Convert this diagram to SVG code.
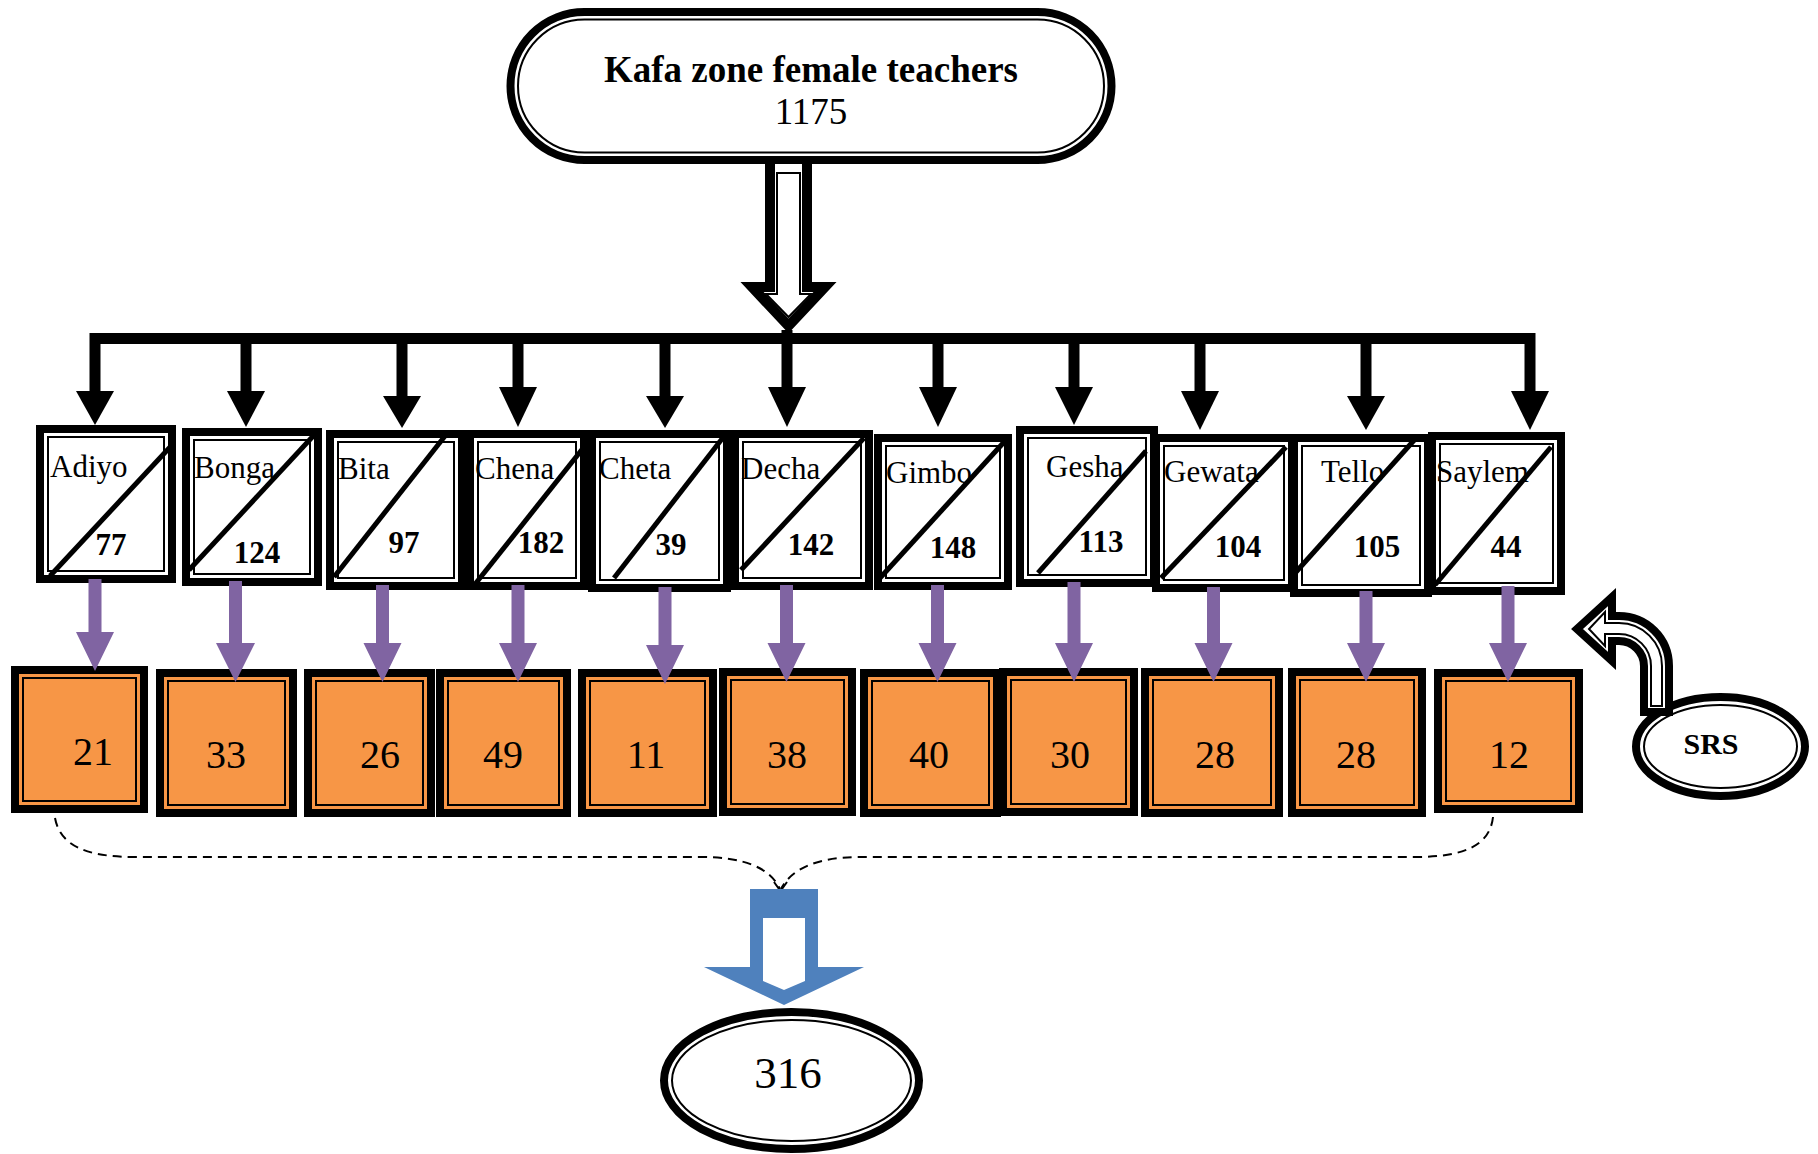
<svg xmlns="http://www.w3.org/2000/svg" width="1818" height="1154" viewBox="0 0 1818 1154">
<style>
.bg{fill:#fff}
.tk{fill:#fff;stroke:#000;stroke-width:8}
.tn{fill:none;stroke:#000;stroke-width:2}
.otk{fill:#F79646;stroke:#000;stroke-width:8}
.otn{fill:none;stroke:#000;stroke-width:2}
.dg{stroke:#000;stroke-width:5;stroke-linecap:butt}
.nm{font-family:"Liberation Serif","Times New Roman",serif;font-size:31px;fill:#000}
.num{font-family:"Liberation Serif","Times New Roman",serif;font-size:31px;font-weight:bold;fill:#000;text-anchor:middle}
.onum{font-family:"Liberation Serif","Times New Roman",serif;font-size:40px;fill:#000;text-anchor:middle}
.bus{fill:none;stroke:#000;stroke-width:11;stroke-linejoin:miter}
.drop{stroke:#000;stroke-width:11}
.head{fill:#000}
.pur{fill:#8064A2}
.dash{fill:none;stroke:#000;stroke-width:2;stroke-dasharray:9 6}
</style>
<rect class="bg" x="0" y="0" width="1818" height="1154"/>

<g id="connectors">
  <path d="M770,164 L770,287 L752,287 L788.5,326 L825,287 L807,287 L807,164" fill="#fff" stroke="#000" stroke-width="10" stroke-linejoin="miter"/>
  <path d="M777,173 L777,294 L766,294 L788.5,317 L811,294 L800,294 L800,173 Z" class="tn"/>
  <path class="bus" d="M95,392 L95,338.5 L1530,338.5 L1530,392"/>
  <line class="drop" x1="246" y1="338" x2="246" y2="392"/>
  <line class="drop" x1="402" y1="338" x2="402" y2="397"/>
  <line class="drop" x1="518" y1="338" x2="518" y2="388"/>
  <line class="drop" x1="665" y1="338" x2="665" y2="397"/>
  <line class="drop" x1="787" y1="330" x2="787" y2="388"/>
  <line class="drop" x1="938" y1="338" x2="938" y2="388"/>
  <line class="drop" x1="1074" y1="338" x2="1074" y2="388"/>
  <line class="drop" x1="1200" y1="338" x2="1200" y2="392"/>
  <line class="drop" x1="1366" y1="338" x2="1366" y2="397"/>
  <polygon class="head" points="76,391 114,391 95,425"/>
  <polygon class="head" points="227,391 265,391 246,427"/>
  <polygon class="head" points="383,396 421,396 402,428"/>
  <polygon class="head" points="499,387 537,387 518,427"/>
  <polygon class="head" points="646,396 684,396 665,428"/>
  <polygon class="head" points="768,387 806,387 787,427"/>
  <polygon class="head" points="919,387 957,387 938,427"/>
  <polygon class="head" points="1055,387 1093,387 1074,425"/>
  <polygon class="head" points="1181,391 1219,391 1200,430"/>
  <polygon class="head" points="1347,396 1385,396 1366,430"/>
  <polygon class="head" points="1511,391 1549,391 1530,430"/>
  <path class="dash" d="M55,818 C60,845 85,857 135,857 L700,857 C745,857 770,868 780,889"/>
  <path class="dash" d="M1493,817 C1490,845 1465,857 1415,857 L860,857 C818,857 792,868 781,889"/>
  <path d="M774,882 L780.5,891 L787,882" fill="none" stroke="#000" stroke-width="2"/>
  <polygon fill="#4F81BD" points="750,889 818,889 818,967 864,967 784,1005 704,967 750,967"/>
  <polygon fill="#fff" points="763,918 805,918 805,981 784,990 763,981"/>
</g>

<g id="n-top">
  <rect class="tk" x="510.5" y="12" width="601" height="148" rx="74" ry="74" stroke-width="9"/>
  <rect class="tn" x="518" y="19.5" width="586" height="133" rx="66.5" ry="66.5" stroke-width="2.5"/>
  <text x="811" y="82" font-family="'Liberation Serif','Times New Roman',serif" font-size="37" font-weight="bold" text-anchor="middle">Kafa zone female teachers</text>
  <text x="811" y="124" font-family="'Liberation Serif','Times New Roman',serif" font-size="37" text-anchor="middle">1175</text>
</g>

<g id="n-adiyo"><rect class="tk" x="40" y="429" width="132" height="150"/><rect class="tn" x="48" y="437" width="116" height="134"/><line class="dg" x1="50" y1="576" x2="172" y2="445"/><text class="nm" x="50" y="477">Adiyo</text><text class="num" x="111" y="555">77</text></g>
<g id="n-bonga"><rect class="tk" x="186" y="432" width="132" height="150"/><rect class="tn" x="194" y="440" width="116" height="134"/><line class="dg" x1="189" y1="570" x2="316" y2="433"/><text class="nm" x="194" y="478">Bonga</text><text class="num" x="257" y="563">124</text></g>
<g id="n-bita"><rect class="tk" x="330" y="434" width="132" height="152"/><rect class="tn" x="338" y="442" width="116" height="136"/><line class="dg" x1="334" y1="577" x2="445" y2="436"/><text class="nm" x="338" y="479">Bita</text><text class="num" x="404" y="553">97</text></g>
<g id="n-chena"><rect class="tk" x="470" y="434" width="114" height="152"/><rect class="tn" x="478" y="442" width="98" height="136"/><line class="dg" x1="472" y1="588" x2="584" y2="447"/><text class="nm" x="475" y="479">Chena</text><text class="num" x="541" y="553">182</text></g>
<g id="n-cheta"><rect class="tk" x="592" y="434" width="135" height="154"/><rect class="tn" x="600" y="442" width="119" height="138"/><line class="dg" x1="614" y1="578" x2="725" y2="435"/><text class="nm" x="599" y="479">Cheta</text><text class="num" x="671" y="555">39</text></g>
<g id="n-decha"><rect class="tk" x="735" y="434" width="134" height="152"/><rect class="tn" x="743" y="442" width="118" height="136"/><line class="dg" x1="741" y1="570" x2="864" y2="438"/><text class="nm" x="741" y="479">Decha</text><text class="num" x="811" y="555">142</text></g>
<g id="n-gimbo"><rect class="tk" x="878" y="438" width="130" height="148"/><rect class="tn" x="886" y="446" width="114" height="132"/><line class="dg" x1="880" y1="578" x2="1005" y2="441"/><text class="nm" x="886" y="483">Gimbo</text><text class="num" x="953" y="558">148</text></g>
<g id="n-gesha"><rect class="tk" x="1020" y="430" width="134" height="153"/><rect class="tn" x="1028" y="438" width="118" height="137"/><line class="dg" x1="1038" y1="573" x2="1146" y2="451"/><text class="nm" x="1046" y="477">Gesha</text><text class="num" x="1101" y="552">113</text></g>
<g id="n-gewata"><rect class="tk" x="1156" y="438" width="136" height="150"/><rect class="tn" x="1164" y="446" width="120" height="134"/><line class="dg" x1="1161" y1="578" x2="1286" y2="447"/><text class="nm" x="1164" y="482">Gewata</text><text class="num" x="1238" y="557">104</text></g>
<g id="n-tello"><rect class="tk" x="1294" y="438" width="134" height="155"/><rect class="tn" x="1302" y="446" width="118" height="139"/><line class="dg" x1="1296" y1="572" x2="1417" y2="437"/><text class="nm" x="1321" y="482">Tello</text><text class="num" x="1377" y="557">105</text></g>
<g id="n-saylem"><rect class="tk" x="1432" y="436" width="129" height="155"/><rect class="tn" x="1440" y="444" width="113" height="139"/><line class="dg" x1="1435" y1="585" x2="1551" y2="447"/><text class="nm" x="1436" y="482">Saylem</text><text class="num" x="1506" y="557">44</text></g>

<g id="n-s21"><rect class="otk" x="15" y="670" width="129" height="139"/><rect class="otn" x="23" y="678" width="113" height="123"/><text class="onum" x="93" y="765">21</text></g>
<g id="n-s33"><rect class="otk" x="160" y="673" width="133" height="140"/><rect class="otn" x="168" y="681" width="117" height="124"/><text class="onum" x="226" y="768">33</text></g>
<g id="n-s26"><rect class="otk" x="308" y="673" width="123" height="140"/><rect class="otn" x="316" y="681" width="107" height="124"/><text class="onum" x="380" y="768">26</text></g>
<g id="n-s49"><rect class="otk" x="440" y="673" width="127" height="140"/><rect class="otn" x="448" y="681" width="111" height="124"/><text class="onum" x="503" y="768">49</text></g>
<g id="n-s11"><rect class="otk" x="582" y="673" width="131" height="140"/><rect class="otn" x="590" y="681" width="115" height="124"/><text class="onum" x="646" y="768">11</text></g>
<g id="n-s38"><rect class="otk" x="723" y="672" width="129" height="140"/><rect class="otn" x="731" y="680" width="113" height="124"/><text class="onum" x="787" y="768">38</text></g>
<g id="n-s40"><rect class="otk" x="864" y="673" width="133" height="140"/><rect class="otn" x="872" y="681" width="117" height="124"/><text class="onum" x="929" y="768">40</text></g>
<g id="n-s30"><rect class="otk" x="1003" y="672" width="131" height="140"/><rect class="otn" x="1011" y="680" width="115" height="124"/><text class="onum" x="1070" y="768">30</text></g>
<g id="n-s28a"><rect class="otk" x="1145" y="672" width="134" height="141"/><rect class="otn" x="1153" y="680" width="118" height="125"/><text class="onum" x="1215" y="768">28</text></g>
<g id="n-s28b"><rect class="otk" x="1292" y="672" width="130" height="141"/><rect class="otn" x="1300" y="680" width="114" height="125"/><text class="onum" x="1356" y="768">28</text></g>
<g id="n-s12"><rect class="otk" x="1438" y="673" width="141" height="136"/><rect class="otn" x="1446" y="681" width="125" height="120"/><text class="onum" x="1509" y="768">12</text></g>

<g id="n-srs">
  <ellipse cx="1720.5" cy="746.5" rx="84.5" ry="49.5" class="tk"/>
  <ellipse cx="1720.5" cy="746.5" rx="76.5" ry="41.5" class="tn"/>
  <text x="1711" y="754" font-family="'Liberation Serif','Times New Roman',serif" font-size="30" font-weight="bold" text-anchor="middle">SRS</text>
</g>

<g id="n-total">
  <ellipse cx="791.5" cy="1080.5" rx="127.5" ry="68.5" class="tk"/>
  <ellipse cx="791.5" cy="1080.5" rx="119.5" ry="60.5" class="tn"/>
  <text x="788" y="1088" font-family="'Liberation Serif','Times New Roman',serif" font-size="45" text-anchor="middle">316</text>
</g>

<g id="connectors-2">
  <polygon class="pur" points="88.5,579 101.5,579 101.5,632 114,632 95,671 76,632 88.5,632"/>
  <polygon class="pur" points="229,581 242,581 242,643 255,643 235.5,682 216,643 229,643"/>
  <polygon class="pur" points="376,585 389,585 389,643 401.5,643 382.5,682 363.5,643 376,643"/>
  <polygon class="pur" points="511.5,585 524.5,585 524.5,643 537,643 518,682 499,643 511.5,643"/>
  <polygon class="pur" points="658.5,587 671.5,587 671.5,645 684,645 665,684 646,645 658.5,645"/>
  <polygon class="pur" points="780,585 793,585 793,643 805.5,643 786.5,682 767.5,643 780,643"/>
  <polygon class="pur" points="931,585 944,585 944,643 956.5,643 937.5,682 918.5,643 931,643"/>
  <polygon class="pur" points="1067.5,582 1080.5,582 1080.5,643 1093,643 1074,682 1055,643 1067.5,643"/>
  <polygon class="pur" points="1207,587 1220,587 1220,643 1232.5,643 1213.5,682 1194.5,643 1207,643"/>
  <polygon class="pur" points="1359.5,591 1372.5,591 1372.5,643 1385,643 1366,682 1347,643 1359.5,643"/>
  <polygon class="pur" points="1501.5,586 1514.5,586 1514.5,643 1527,643 1508,682 1489,643 1501.5,643"/>
  <path d="M1644,712 L1644,666 A25,25 0 0 0 1619,641 L1612,641 L1612,661 L1577,629 L1612,597 L1612,616 L1619,616 A50,50 0 0 1 1669,666 L1669,712 Z" fill="#fff" stroke="#000" stroke-width="8" stroke-linejoin="miter"/>
  <path d="M1651,706 L1651,666 A32,32 0 0 0 1619,634 L1605,634 L1605,646 L1589,629 L1605,612 L1605,623 L1619,623 A43,43 0 0 1 1662,666 L1662,706 Z" class="tn"/>
</g>
</svg>
